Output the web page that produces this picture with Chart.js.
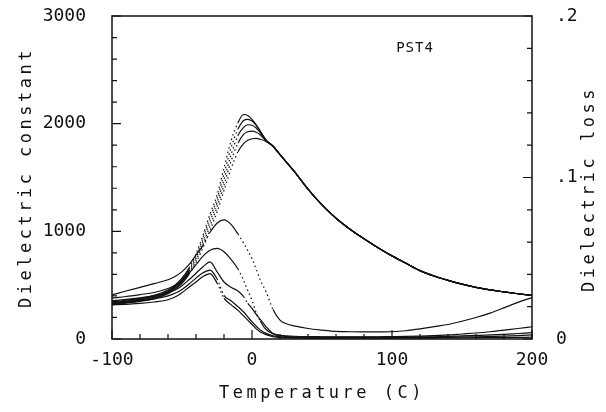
<!DOCTYPE html>
<html>
<head>
  <title>PST4 dielectric constant and loss</title>
  <script src="https://cdn.jsdelivr.net/npm/chart.js"></script>
  <style>
    body { margin: 0; background: #fff; }
    #wrap { width: 606px; height: 412px; }
  </style>
</head>
<body>
  <div id="wrap"><canvas id="pstChart"></canvas></div>
  <script>
    // temperature grid (C)
    const temps = [-100, -90, -80, -70, -60, -55, -50, -45, -40, -35, -30, -25, -20, -15, -10, -6, -3, 0, 3, 6, 10,
      15, 20, 25, 30, 40, 50, 60, 70, 80, 90, 100, 110, 120, 130, 140, 150, 160, 170, 180, 190, 200];

    // dielectric constant, five frequencies (left axis)
    const eps1 = [345, 360, 378, 405, 455, 500, 565, 660, 790, 965, 1160, 1335, 1590, 1840, 2010, 2085, 2075, 2040, 1990, 1930, 1850,
      1790, 1712, 1635, 1560, 1392, 1245, 1122, 1020, 930, 848, 772, 703, 635, 585, 545, 510, 480, 456, 437, 420, 405];
    const eps2 = [338, 352, 370, 396, 445, 490, 552, 645, 770, 940, 1125, 1300, 1535, 1775, 1950, 2030, 2040, 2025, 1985, 1925, 1848,
      1790, 1712, 1635, 1560, 1392, 1245, 1122, 1020, 930, 848, 772, 703, 635, 585, 545, 510, 480, 456, 437, 420, 405];
    const eps3 = [332, 346, 363, 388, 436, 480, 540, 630, 750, 910, 1090, 1265, 1480, 1710, 1890, 1965, 1990, 1985, 1960, 1915, 1845,
      1790, 1712, 1635, 1560, 1392, 1245, 1122, 1020, 930, 848, 772, 703, 635, 585, 545, 510, 480, 456, 437, 420, 405];
    const eps4 = [326, 340, 356, 380, 428, 470, 528, 615, 730, 880, 1050, 1225, 1430, 1650, 1820, 1900, 1925, 1930, 1920, 1895, 1840,
      1790, 1712, 1635, 1560, 1392, 1245, 1122, 1020, 930, 848, 772, 703, 635, 585, 545, 510, 480, 456, 437, 420, 405];
    const eps5 = [320, 334, 350, 373, 420, 462, 516, 600, 710, 850, 1010, 1180, 1380, 1580, 1740, 1815, 1845, 1860, 1864, 1855, 1835,
      1790, 1712, 1635, 1560, 1392, 1245, 1122, 1020, 930, 848, 772, 703, 635, 585, 545, 510, 480, 456, 437, 420, 405];

    // dielectric loss, five frequencies (right axis)
    const loss1 = [.0273, .0297, .0320, .0343, .0367, .0387, .0417, .0460, .0520, .0580, .0660, .0717, .0737, .0710, .0650, .0593, .0547, .0497, .0433, .0363, .0293,
      .0183, .0117, .0093, .0081, .0065, .0055, .0047, .0045, .0044, .0044, .0045, .0051, .0063, .0077, .0090, .0110, .0133, .0160, .0193, .0227, .0257];
    const loss2 = [.0253, .0263, .0275, .0288, .0313, .0333, .0363, .0407, .0460, .0513, .0550, .0561, .0540, .0493, .0433, .0363, .0300, .0240, .0163, .0110, .0059,
      .0033, .0023, .0019, .0017, .0015, .0014, .0013, .0013, .0013, .0014, .0015, .0016, .0018, .0021, .0025, .0031, .0037, .0045, .0055, .0065, .0076];
    const loss3 = [.0237, .0245, .0255, .0267, .0287, .0303, .0330, .0367, .0407, .0447, .0477, .0417, .0353, .0320, .0297, .0262, .0220, .0190, .0153, .0120, .0077,
      .0033, .0019, .0015, .0013, .0012, .0011, .0011, .0011, .0011, .0011, .0011, .0012, .0013, .0014, .0016, .0019, .0022, .0025, .0029, .0034, .0039];
    const loss4 = [.0220, .0228, .0237, .0248, .0267, .0283, .0307, .0340, .0377, .0410, .0427, .0373, .0270, .0237, .0200, .0167, .0137, .0107, .0079, .0055, .0035,
      .0020, .0013, .0010, .0009, .0007, .0007, .0007, .0007, .0007, .0007, .0008, .0008, .0009, .0010, .0011, .0013, .0014, .0016, .0018, .0021, .0025];
    const loss5 = [.0211, .0215, .0220, .0229, .0243, .0260, .0287, .0320, .0353, .0387, .0405, .0347, .0253, .0213, .0177, .0143, .0117, .0090, .0063, .0043, .0027,
      .0015, .0009, .0007, .0005, .0005, .0005, .0005, .0005, .0005, .0005, .0005, .0005, .0006, .0006, .0007, .0007, .0008, .0008, .0009, .0010, .0011];

    const epsTickText = ['0', '1000', '2000', '3000'];
    const lossTickText = ['0', '.1', '.2'];
    const xTitle = 'Temperature (C)';
    const epsTitle = 'Dielectric constant';
    const lossTitle = 'Dielectric loss';
    const sampleName = 'PST4';

    const ink = '#111';
    const tickFont = { family: 'DejaVu Sans Mono', size: 18 };

    // steep stretches look dotted in the original (sparse sample points)
    const dotted = ctx => {
      const dx = Math.abs(ctx.p1.x - ctx.p0.x) || 1;
      return Math.abs(ctx.p1.y - ctx.p0.y) / dx > 1.6 ? [1.5, 3] : undefined;
    };

    function makeSet(values, axis) {
      return {
        data: values.map((v, i) => ({ x: temps[i], y: v })),
        yAxisID: axis,
        borderColor: ink,
        borderWidth: 1.2,
        pointRadius: 0,
        fill: false,
        cubicInterpolationMode: 'monotone',
        segment: { borderDash: dotted },
      };
    }

    const datasets = [eps1, eps2, eps3, eps4, eps5].map(v => makeSet(v, 'y'))
      .concat([loss1, loss2, loss3, loss4, loss5].map(v => makeSet(v, 'y1')));

    // pin the plot box: fixed axis sizes, no label overhang padding
    function pinBox(size, horizontal) {
      return s => {
        if (horizontal) s.height = size; else s.width = size;
        s.paddingTop = 0; s.paddingBottom = 0;
        s.paddingLeft = 0; s.paddingRight = 0;
      };
    }

    // box, inward ticks and axis titles
    const frameAndTitles = {
      id: 'frameAndTitles',
      afterDraw(chart) {
        const { ctx, chartArea: a, scales } = chart;
        ctx.save();
        ctx.strokeStyle = ink;
        ctx.lineWidth = 1.5;
        ctx.strokeRect(a.left, a.top, a.right - a.left, a.bottom - a.top);

        ctx.lineWidth = 1.2;
        ctx.beginPath();
        for (let v = -100; v <= 200; v += 20) {
          const px = scales.x.getPixelForValue(v);
          const len = v % 100 === 0 ? 9 : 5;
          ctx.moveTo(px, a.bottom);
          ctx.lineTo(px, a.bottom - len);
        }
        for (let v = 0; v <= 3000; v += 200) {
          const py = scales.y.getPixelForValue(v);
          const len = v % 1000 === 0 ? 9 : 5;
          ctx.moveTo(a.left, py);
          ctx.lineTo(a.left + len, py);
        }
        for (let i = 0; i <= 10; i++) {
          const py = scales.y1.getPixelForValue(i * 0.02);
          const len = i % 5 === 0 ? 9 : 5;
          ctx.moveTo(a.right, py);
          ctx.lineTo(a.right - len, py);
        }
        ctx.stroke();

        ctx.fillStyle = ink;
        ctx.textAlign = 'center';
        ctx.textBaseline = 'middle';
        ctx.font = '17px "DejaVu Sans Mono"';
        ctx.letterSpacing = '3.5px';
        ctx.fillText(xTitle, (a.left + a.right) / 2, 394);

        ctx.save();
        ctx.translate(27, (a.top + a.bottom) / 2);
        ctx.rotate(-Math.PI / 2);
        ctx.fillText(epsTitle, 0, 0);
        ctx.restore();

        ctx.save();
        ctx.translate(590, 189);
        ctx.rotate(-Math.PI / 2);
        ctx.fillText(lossTitle, 0, 0);
        ctx.restore();

        ctx.letterSpacing = '1px';
        ctx.font = '14px "DejaVu Sans Mono"';
        ctx.fillText(sampleName, 415, 48);
        ctx.restore();
      }
    };

    const chart = new Chart(document.getElementById('pstChart'), {
      type: 'line',
      data: { datasets: datasets },
      options: {
        responsive: true,
        maintainAspectRatio: false,
        animation: false,
        layout: { padding: { top: 16, left: 0, right: 0, bottom: 0 } },
        plugins: {
          legend: { display: false },
          tooltip: { enabled: false },
        },
        scales: {
          x: {
            type: 'linear',
            min: -100,
            max: 200,
            grid: { display: false },
            border: { display: false },
            ticks: { stepSize: 100, maxRotation: 0, padding: 3, color: ink, font: tickFont },
            afterFit: pinBox(73, true),
          },
          y: {
            position: 'left',
            min: 0,
            max: 3000,
            grid: { display: false },
            border: { display: false },
            ticks: { stepSize: 1000, padding: 18, color: ink, font: tickFont,
              callback: (v, i) => epsTickText[i] },
            afterFit: pinBox(112, false),
          },
          y1: {
            position: 'right',
            min: 0,
            max: 0.2,
            grid: { display: false },
            border: { display: false },
            ticks: { stepSize: 0.1, padding: 16, color: ink, font: tickFont,
              callback: (v, i) => lossTickText[i] },
            afterFit: pinBox(74, false),
          },
        },
      },
      plugins: [frameAndTitles],
    });
  </script>
</body>
</html>
